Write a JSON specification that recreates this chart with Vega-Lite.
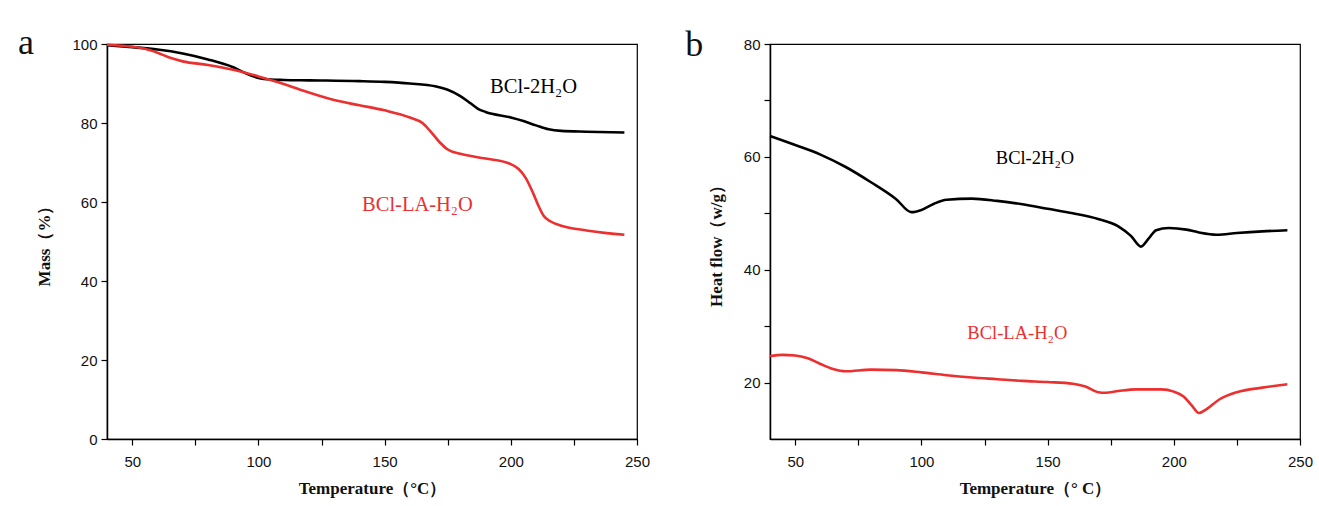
{
  "$schema": "https://vega.github.io/schema/vega-lite/v6.json",
  "background": "white",
  "padding": {"left": 17, "top": 24, "right": 10, "bottom": 2},
  "spacing": 33,
  "config": {
    "view": {"stroke": "black", "strokeWidth": 1.2},
    "axis": {
      "grid": false,
      "domainColor": "black",
      "domainWidth": 1.5,
      "tickColor": "black",
      "tickWidth": 1.2,
      "tickSize": 6,
      "labelFont": "Liberation Sans Narrow, Liberation Sans, Arial",
      "labelFontSize": 15,
      "labelColor": "#111",
      "titleFont": "Liberation Serif",
      "titleFontSize": 17,
      "titleFontWeight": "bold",
      "titleColor": "#111"
    }
  },
  "datasets": {
    "tga": [
      {"sample": "BCl-2H₂O", "T": 40, "v": 99.7},
      {"sample": "BCl-2H₂O", "T": 50, "v": 99.2},
      {"sample": "BCl-2H₂O", "T": 60, "v": 98.6},
      {"sample": "BCl-2H₂O", "T": 70, "v": 97.6},
      {"sample": "BCl-2H₂O", "T": 80, "v": 96.1},
      {"sample": "BCl-2H₂O", "T": 90, "v": 94.1},
      {"sample": "BCl-2H₂O", "T": 95, "v": 92.6},
      {"sample": "BCl-2H₂O", "T": 100, "v": 91.4},
      {"sample": "BCl-2H₂O", "T": 105, "v": 91.0},
      {"sample": "BCl-2H₂O", "T": 110, "v": 90.9},
      {"sample": "BCl-2H₂O", "T": 120, "v": 90.8},
      {"sample": "BCl-2H₂O", "T": 140, "v": 90.6},
      {"sample": "BCl-2H₂O", "T": 150, "v": 90.4},
      {"sample": "BCl-2H₂O", "T": 160, "v": 90.0},
      {"sample": "BCl-2H₂O", "T": 170, "v": 89.3},
      {"sample": "BCl-2H₂O", "T": 175, "v": 88.4},
      {"sample": "BCl-2H₂O", "T": 180, "v": 86.8},
      {"sample": "BCl-2H₂O", "T": 184, "v": 85.0},
      {"sample": "BCl-2H₂O", "T": 187, "v": 83.6},
      {"sample": "BCl-2H₂O", "T": 190, "v": 82.8},
      {"sample": "BCl-2H₂O", "T": 200, "v": 81.4},
      {"sample": "BCl-2H₂O", "T": 205, "v": 80.5},
      {"sample": "BCl-2H₂O", "T": 210, "v": 79.4},
      {"sample": "BCl-2H₂O", "T": 215, "v": 78.4},
      {"sample": "BCl-2H₂O", "T": 220, "v": 78.0},
      {"sample": "BCl-2H₂O", "T": 230, "v": 77.8},
      {"sample": "BCl-2H₂O", "T": 245, "v": 77.6},
      {"sample": "BCl-LA-H₂O", "T": 40, "v": 99.8},
      {"sample": "BCl-LA-H₂O", "T": 50, "v": 99.3},
      {"sample": "BCl-LA-H₂O", "T": 55, "v": 98.8},
      {"sample": "BCl-LA-H₂O", "T": 60, "v": 97.8},
      {"sample": "BCl-LA-H₂O", "T": 65, "v": 96.5},
      {"sample": "BCl-LA-H₂O", "T": 70, "v": 95.6},
      {"sample": "BCl-LA-H₂O", "T": 80, "v": 94.7},
      {"sample": "BCl-LA-H₂O", "T": 90, "v": 93.5},
      {"sample": "BCl-LA-H₂O", "T": 100, "v": 91.8},
      {"sample": "BCl-LA-H₂O", "T": 110, "v": 89.9},
      {"sample": "BCl-LA-H₂O", "T": 120, "v": 87.7},
      {"sample": "BCl-LA-H₂O", "T": 130, "v": 85.8},
      {"sample": "BCl-LA-H₂O", "T": 140, "v": 84.5},
      {"sample": "BCl-LA-H₂O", "T": 150, "v": 83.2},
      {"sample": "BCl-LA-H₂O", "T": 160, "v": 81.4},
      {"sample": "BCl-LA-H₂O", "T": 165, "v": 80.0},
      {"sample": "BCl-LA-H₂O", "T": 168, "v": 78.0},
      {"sample": "BCl-LA-H₂O", "T": 172, "v": 75.0},
      {"sample": "BCl-LA-H₂O", "T": 175, "v": 73.3},
      {"sample": "BCl-LA-H₂O", "T": 180, "v": 72.2},
      {"sample": "BCl-LA-H₂O", "T": 190, "v": 71.0},
      {"sample": "BCl-LA-H₂O", "T": 200, "v": 69.6},
      {"sample": "BCl-LA-H₂O", "T": 203, "v": 68.4},
      {"sample": "BCl-LA-H₂O", "T": 206, "v": 66.0},
      {"sample": "BCl-LA-H₂O", "T": 209, "v": 62.0},
      {"sample": "BCl-LA-H₂O", "T": 211, "v": 59.0},
      {"sample": "BCl-LA-H₂O", "T": 213, "v": 56.5},
      {"sample": "BCl-LA-H₂O", "T": 216, "v": 55.0},
      {"sample": "BCl-LA-H₂O", "T": 220, "v": 54.0},
      {"sample": "BCl-LA-H₂O", "T": 230, "v": 52.8},
      {"sample": "BCl-LA-H₂O", "T": 240, "v": 52.0},
      {"sample": "BCl-LA-H₂O", "T": 245, "v": 51.7}
    ],
    "dsc": [
      {"sample": "BCl-2H₂O", "T": 40, "v": 63.7},
      {"sample": "BCl-2H₂O", "T": 50, "v": 62.1},
      {"sample": "BCl-2H₂O", "T": 60, "v": 60.4},
      {"sample": "BCl-2H₂O", "T": 70, "v": 58.2},
      {"sample": "BCl-2H₂O", "T": 80, "v": 55.5},
      {"sample": "BCl-2H₂O", "T": 90, "v": 52.5},
      {"sample": "BCl-2H₂O", "T": 96, "v": 50.2},
      {"sample": "BCl-2H₂O", "T": 100, "v": 50.6},
      {"sample": "BCl-2H₂O", "T": 105, "v": 51.7},
      {"sample": "BCl-2H₂O", "T": 110, "v": 52.4},
      {"sample": "BCl-2H₂O", "T": 120, "v": 52.6},
      {"sample": "BCl-2H₂O", "T": 130, "v": 52.2},
      {"sample": "BCl-2H₂O", "T": 140, "v": 51.6},
      {"sample": "BCl-2H₂O", "T": 150, "v": 50.8},
      {"sample": "BCl-2H₂O", "T": 160, "v": 50.0},
      {"sample": "BCl-2H₂O", "T": 170, "v": 49.0},
      {"sample": "BCl-2H₂O", "T": 178, "v": 47.7},
      {"sample": "BCl-2H₂O", "T": 183, "v": 46.0},
      {"sample": "BCl-2H₂O", "T": 187, "v": 44.1},
      {"sample": "BCl-2H₂O", "T": 190, "v": 45.5},
      {"sample": "BCl-2H₂O", "T": 193, "v": 47.0},
      {"sample": "BCl-2H₂O", "T": 198, "v": 47.4},
      {"sample": "BCl-2H₂O", "T": 205, "v": 47.1},
      {"sample": "BCl-2H₂O", "T": 210, "v": 46.6},
      {"sample": "BCl-2H₂O", "T": 217, "v": 46.2},
      {"sample": "BCl-2H₂O", "T": 225, "v": 46.5},
      {"sample": "BCl-2H₂O", "T": 235, "v": 46.8},
      {"sample": "BCl-2H₂O", "T": 245, "v": 47.0},
      {"sample": "BCl-LA-H₂O", "T": 40, "v": 24.7},
      {"sample": "BCl-LA-H₂O", "T": 45, "v": 24.9},
      {"sample": "BCl-LA-H₂O", "T": 50, "v": 24.8},
      {"sample": "BCl-LA-H₂O", "T": 55, "v": 24.3},
      {"sample": "BCl-LA-H₂O", "T": 60, "v": 23.3},
      {"sample": "BCl-LA-H₂O", "T": 65, "v": 22.4},
      {"sample": "BCl-LA-H₂O", "T": 70, "v": 22.0},
      {"sample": "BCl-LA-H₂O", "T": 80, "v": 22.3},
      {"sample": "BCl-LA-H₂O", "T": 90, "v": 22.2},
      {"sample": "BCl-LA-H₂O", "T": 100, "v": 21.8},
      {"sample": "BCl-LA-H₂O", "T": 110, "v": 21.3},
      {"sample": "BCl-LA-H₂O", "T": 120, "v": 20.9},
      {"sample": "BCl-LA-H₂O", "T": 130, "v": 20.6},
      {"sample": "BCl-LA-H₂O", "T": 140, "v": 20.3},
      {"sample": "BCl-LA-H₂O", "T": 150, "v": 20.1},
      {"sample": "BCl-LA-H₂O", "T": 160, "v": 19.8},
      {"sample": "BCl-LA-H₂O", "T": 165, "v": 19.3},
      {"sample": "BCl-LA-H₂O", "T": 170, "v": 18.3},
      {"sample": "BCl-LA-H₂O", "T": 173, "v": 18.2},
      {"sample": "BCl-LA-H₂O", "T": 178, "v": 18.5},
      {"sample": "BCl-LA-H₂O", "T": 185, "v": 18.8},
      {"sample": "BCl-LA-H₂O", "T": 195, "v": 18.8},
      {"sample": "BCl-LA-H₂O", "T": 200, "v": 18.4},
      {"sample": "BCl-LA-H₂O", "T": 204, "v": 17.5},
      {"sample": "BCl-LA-H₂O", "T": 207, "v": 16.0},
      {"sample": "BCl-LA-H₂O", "T": 210, "v": 14.6},
      {"sample": "BCl-LA-H₂O", "T": 213, "v": 15.3},
      {"sample": "BCl-LA-H₂O", "T": 218, "v": 17.0},
      {"sample": "BCl-LA-H₂O", "T": 225, "v": 18.3},
      {"sample": "BCl-LA-H₂O", "T": 235, "v": 19.1},
      {"sample": "BCl-LA-H₂O", "T": 245, "v": 19.7}
    ],
    "labA": [
      {"sample": "BCl-2H₂O", "T": 209, "v": 89.0},
      {"sample": "BCl-LA-H₂O", "T": 163, "v": 59.3}
    ],
    "labB": [
      {"sample": "BCl-2H₂O", "T": 145, "v": 59.8},
      {"sample": "BCl-LA-H₂O", "T": 138, "v": 28.8}
    ]
  },
  "hconcat": [
    {
      "width": 530,
      "height": 395,
      "title": {"text": "a", "orient": "left", "angle": 0, "anchor": "end", "frame": "group", "align": "right", "baseline": "alphabetic", "dy": 10, "offset": -14, "font": "Liberation Serif", "fontSize": 36, "fontWeight": "normal", "color": "#111"},
      "layer": [
        {
          "data": {"name": "tga"},
          "mark": {"type": "line", "strokeWidth": 2.6, "interpolate": "monotone"},
          "encoding": {
            "x": {"field": "T", "type": "quantitative", "scale": {"domain": [40, 250], "nice": false, "zero": false},
              "axis": {"title": "Temperature（°C）", "values": [50, 75, 100, 125, 150, 175, 200, 225, 250], "labelExpr": "datum.value % 50 === 0 ? datum.label : ''", "labelPadding": 9, "titlePadding": 11, "labelFlush": false}},
            "y": {"field": "v", "type": "quantitative", "scale": {"domain": [0, 100], "nice": false},
              "axis": {"title": "Mass（%）", "values": [0, 10, 20, 30, 40, 50, 60, 70, 80, 90, 100], "labelExpr": "datum.value % 20 === 0 ? datum.label : ''", "labelPadding": 4, "titlePadding": 18}},
            "color": {"field": "sample", "type": "nominal", "scale": {"domain": ["BCl-2H₂O", "BCl-LA-H₂O"], "range": ["#000000", "#ec2f2f"]}, "legend": null}
          }
        },
        {
          "data": {"name": "labA"},
          "mark": {"type": "text", "font": "Liberation Serif", "fontSize": 20.5},
          "encoding": {
            "x": {"field": "T", "type": "quantitative"},
            "y": {"field": "v", "type": "quantitative"},
            "text": {"field": "sample"},
            "color": {"field": "sample", "type": "nominal", "legend": null}
          }
        }
      ]
    },
    {
      "width": 530,
      "height": 395,
      "title": {"text": "b", "orient": "left", "angle": 0, "anchor": "end", "frame": "group", "align": "right", "baseline": "alphabetic", "dy": 12, "offset": -14, "font": "Liberation Serif", "fontSize": 36, "fontWeight": "normal", "color": "#111"},
      "layer": [
        {
          "data": {"name": "dsc"},
          "mark": {"type": "line", "strokeWidth": 2.6, "interpolate": "monotone"},
          "encoding": {
            "x": {"field": "T", "type": "quantitative", "scale": {"domain": [40, 250], "nice": false, "zero": false},
              "axis": {"title": "Temperature（° C）", "values": [50, 75, 100, 125, 150, 175, 200, 225, 250], "labelExpr": "datum.value % 50 === 0 ? datum.label : ''", "labelPadding": 9, "titlePadding": 11, "labelFlush": false}},
            "y": {"field": "v", "type": "quantitative", "scale": {"domain": [10, 80], "nice": false, "zero": false},
              "axis": {"title": "Heat flow（w/g）", "values": [20, 30, 40, 50, 60, 70, 80], "labelExpr": "datum.value % 20 === 0 ? datum.label : ''", "labelPadding": 4, "titlePadding": 18}},
            "color": {"field": "sample", "type": "nominal", "scale": {"domain": ["BCl-2H₂O", "BCl-LA-H₂O"], "range": ["#000000", "#ec2f2f"]}, "legend": null}
          }
        },
        {
          "data": {"name": "labB"},
          "mark": {"type": "text", "font": "Liberation Serif", "fontSize": 18.5},
          "encoding": {
            "x": {"field": "T", "type": "quantitative"},
            "y": {"field": "v", "type": "quantitative"},
            "text": {"field": "sample"},
            "color": {"field": "sample", "type": "nominal", "legend": null}
          }
        }
      ]
    }
  ]
}
